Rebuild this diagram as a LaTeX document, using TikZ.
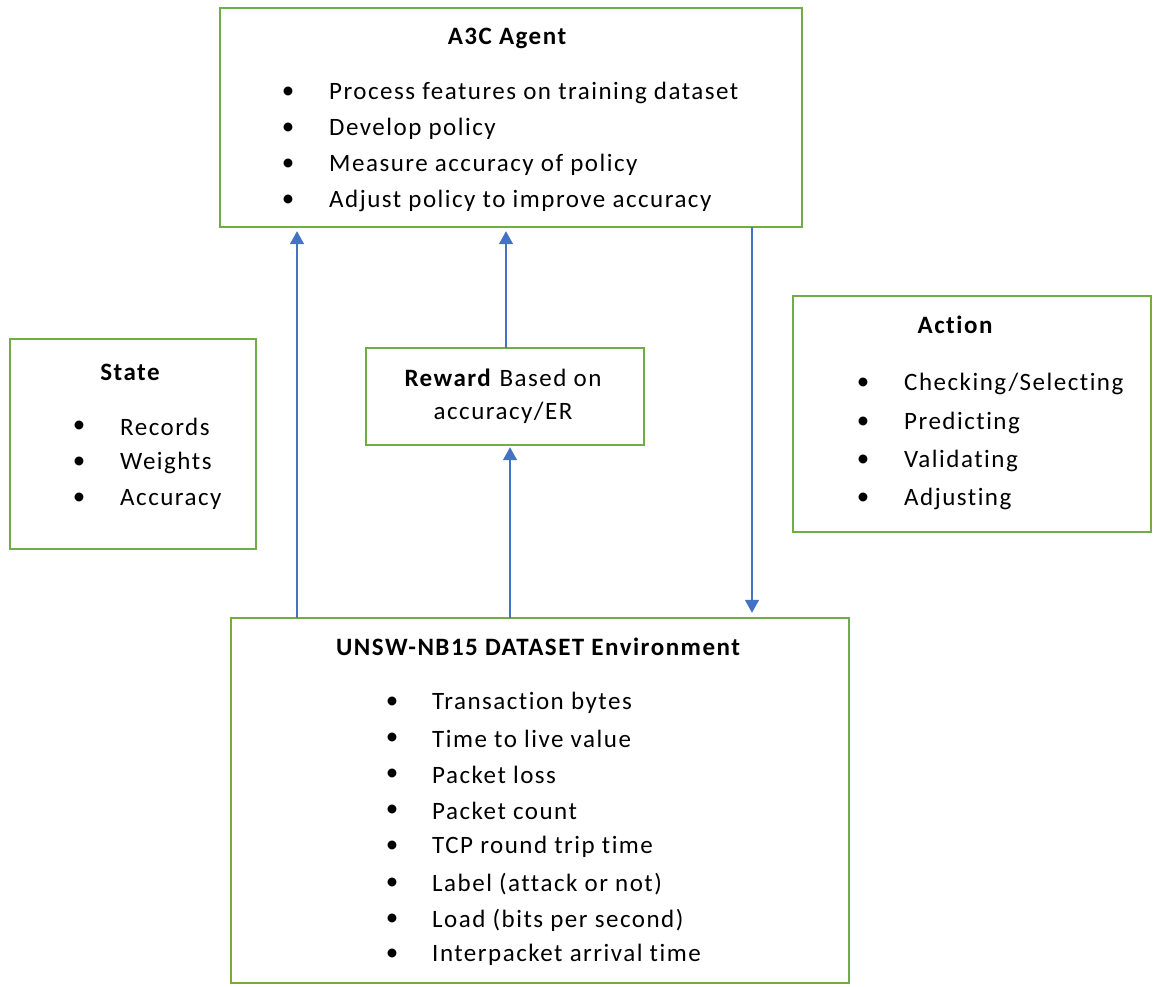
\documentclass[tikz,border=0pt]{standalone}
\usepackage{fontspec}
\setmainfont{Carlito}
\newfontfamily\spcfont[LetterSpace=6,Ligatures=CommonOff]{Carlito}
\usetikzlibrary{arrows.meta}
\definecolor{boxgreen}{HTML}{70AD47}
\definecolor{arrblue}{HTML}{4472C4}
\tikzset{
  box/.style={draw=boxgreen, line width=1.5pt, rectangle, inner sep=0pt},
  title/.style={font=\spcfont\fontsize{25}{30}\selectfont\bfseries, anchor=center, inner sep=0pt},
  item/.style={font=\spcfont\fontsize{25}{30}\selectfont, anchor=west, inner sep=0pt},
  bul/.style={font=\fontsize{25}{30}\selectfont, anchor=center, inner sep=0pt},
  arr/.style={draw=arrblue, line width=1.5pt, -{Triangle[width=14pt,length=13pt]}}
}
\begin{document}
\begin{tikzpicture}[x=1pt,y=-1pt]
\useasboundingbox (0,0) rectangle (1156,986);
% boxes
\draw[box] (220,8) rectangle (802,227);
\node[inner sep=0pt, minimum width=582pt, minimum height=219pt] (a3c) at (511,117.5) {};
\draw[box] (10,339) rectangle (256,549);
\node[inner sep=0pt, minimum width=246pt, minimum height=210pt] (state) at (133,444) {};
\draw[box] (366,348) rectangle (644,445);
\node[inner sep=0pt, minimum width=278pt, minimum height=97pt] (reward) at (505,396.5) {};
\draw[box] (793,296) rectangle (1151,532);
\node[inner sep=0pt, minimum width=358pt, minimum height=236pt] (action) at (972,414) {};
\draw[box] (231,618) rectangle (849,983);
\node[inner sep=0pt, minimum width=618pt, minimum height=365pt] (unsw) at (540,800.5) {};
% A3C text
\node[title] (a3ct) at (507,38) {A3C Agent};
\foreach \y/\t [count=\i] in {93/Process features on training dataset,129/Develop policy,165/Measure accuracy of policy,201/Adjust policy to improve accuracy}{
  \node[bul] (a3cb\i) at (288,\y) {•};
  \node[item] (a3ci\i) at (329,\y) {\t};
}
% State text
\node[title] (statet) at (130,372) {State};
\foreach \y/\t [count=\i] in {427/Records,463/Weights,499/Accuracy}{
  \node[bul] (stateb\i) at (79,\y) {•};
  \node[item] (statei\i) at (120,\y) {\t};
}
% Reward text
\node[font=\spcfont\fontsize{25}{30}\selectfont, inner sep=0pt] (rewardt1) at (503,378) {\textbf{Reward} Based on};
\node[font=\spcfont\fontsize{25}{30}\selectfont, inner sep=0pt] (rewardt2) at (503,413) {accuracy/ER};
% Action text
\node[title] (actiont) at (955,325) {Action};
\foreach \y/\t [count=\i] in {384/{Checking/Selecting},423/Predicting,461/Validating,499/Adjusting}{
  \node[bul] (actionb\i) at (863,\y) {•};
  \node[item] (actioni\i) at (904,\y) {\t};
}
% UNSW text
\node[title] (unswt) at (538,647) {UNSW-NB15 DATASET Environment};
\foreach \y/\t [count=\i] in {703/Transaction bytes,739/Time to live value,775/Packet loss,811/Packet count,847/TCP round trip time,884/Label (attack or not),920/Load (bits per second),955/Interpacket arrival time}{
  \node[bul] (unswb\i) at (392,\y) {•};
  \node[item] (unswi\i) at (432,\y) {\t};
}
% arrows
\draw[arr, shorten >=4pt] (unsw.north -| 297,0) -- (a3c.south -| 297,0);
\draw[arr, shorten >=4pt] (reward.north -| 506,0) -- (a3c.south -| 506,0);
\draw[arr, shorten >=2pt] (unsw.north -| 510,0) -- (reward.south -| 510,0);
\draw[arr, shorten >=5pt] (a3c.south -| 752,0) -- (unsw.north -| 752,0);
\end{tikzpicture}
\end{document}
